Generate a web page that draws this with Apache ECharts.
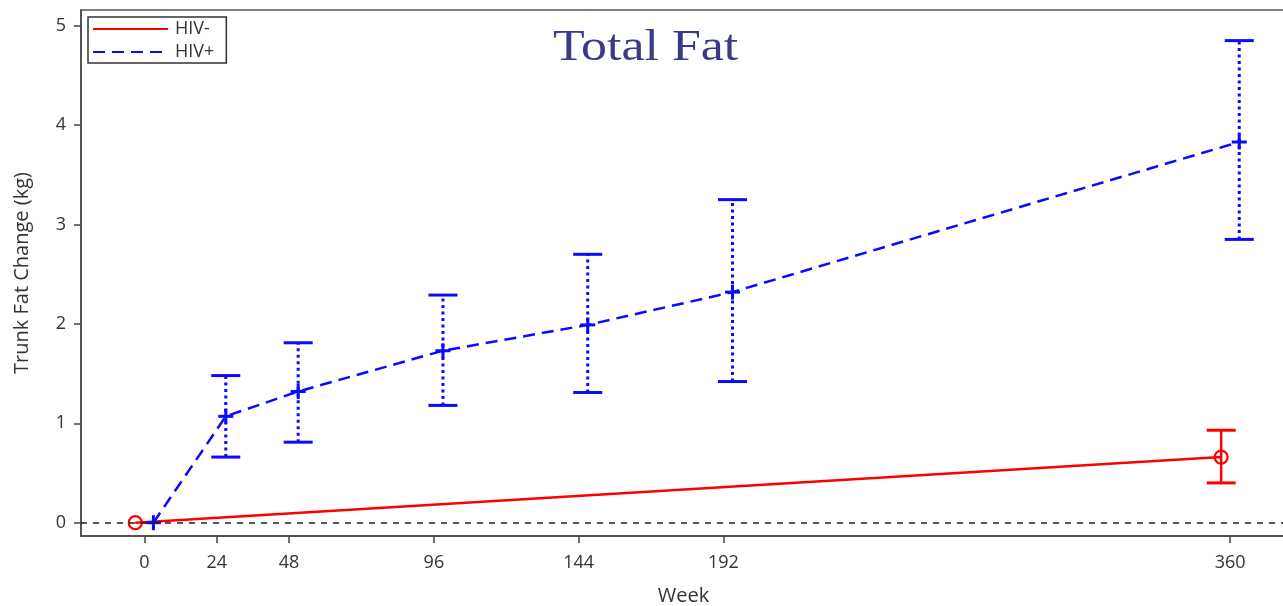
<!DOCTYPE html>
<html>
<head>
<meta charset="utf-8">
<script src="https://cdn.jsdelivr.net/npm/echarts@6/dist/echarts.min.js"></script>
<style>
  html, body { margin: 0; padding: 0; background: #fff; }
  #chart { width: 1283px; height: 606px; }
</style>
</head>
<body>
<div id="chart"></div>
<script>
// ---- Data ----
const weekTicks = [0, 24, 48, 96, 144, 192, 360];
const yTicks = [0, 1, 2, 3, 4, 5];

const hivNegWeeks = [0, 360];
const hivNegMean  = [0, 0.66];
const hivNegLower = [null, 0.40];
const hivNegUpper = [null, 0.93];

const hivPosWeeks = [0, 24, 48, 96, 144, 192, 360];
const hivPosMean  = [0, 1.07, 1.32, 1.73, 1.99, 2.32, 3.83];
const hivPosLower = [null, 0.66, 0.81, 1.18, 1.31, 1.42, 2.85];
const hivPosUpper = [null, 1.48, 1.81, 2.29, 2.70, 3.25, 4.85];

// horizontal dodge (weeks) used in the original plot
const negDodge = -3;
const posDodge = 3;

const RED = '#ff0000';
const BLUE = '#0a0aff';
const FONT = '"Open Sans", "Noto Sans", sans-serif';

const negLine = hivNegWeeks.map((w, i) => [w + negDodge, hivNegMean[i]]);
const posLine = hivPosWeeks.map((w, i) => [w + posDodge, hivPosMean[i]]);
const negPts = hivNegWeeks.map((w, i) => [w + negDodge, hivNegMean[i], hivNegLower[i], hivNegUpper[i]]);
const posPts = hivPosWeeks.map((w, i) => [w + posDodge, hivPosMean[i], hivPosLower[i], hivPosUpper[i]]);

function makeRender(kind) {
  return function (params, api) {
    const x = api.value(0), m = api.value(1), lo = api.value(2), hi = api.value(3);
    const pm = api.coord([x, m]);
    const children = [];
    const color = kind === 'pos' ? BLUE : RED;
    if (lo != null && !isNaN(lo) && hi != null && !isNaN(hi)) {
      const pl = api.coord([x, lo]);
      const ph = api.coord([x, hi]);
      const hw = 14.5;
      children.push({
        type: 'line',
        shape: { x1: pl[0], y1: pl[1], x2: ph[0], y2: ph[1] },
        style: kind === 'pos'
          ? { stroke: color, lineWidth: 3, lineDash: [3, 3.5] }
          : { stroke: color, lineWidth: 2.5 }
      });
      children.push({ type: 'line', shape: { x1: ph[0] - hw, y1: ph[1], x2: ph[0] + hw, y2: ph[1] }, style: { stroke: color, lineWidth: 3 } });
      children.push({ type: 'line', shape: { x1: pl[0] - hw, y1: pl[1], x2: pl[0] + hw, y2: pl[1] }, style: { stroke: color, lineWidth: 3 } });
    }
    if (kind === 'pos') {
      const s = 7.5;
      children.push({ type: 'line', shape: { x1: pm[0] - s, y1: pm[1], x2: pm[0] + s, y2: pm[1] }, style: { stroke: color, lineWidth: 3 } });
      children.push({ type: 'line', shape: { x1: pm[0], y1: pm[1] - s, x2: pm[0], y2: pm[1] + s }, style: { stroke: color, lineWidth: 3 } });
    } else {
      children.push({ type: 'circle', shape: { cx: pm[0], cy: pm[1], r: 6.5 }, style: { fill: 'none', stroke: color, lineWidth: 2.2 } });
    }
    return { type: 'group', children: children };
  };
}

const chart = echarts.init(document.getElementById('chart'), null, { renderer: 'canvas' });
chart.setOption({
  animation: false,
  backgroundColor: '#ffffff',
  graphic: [{
    type: 'text',
    x: 553,
    y: 26,
    scaleX: 1.18,
    style: {
      text: 'Total Fat',
      font: '44px "Liberation Serif", "DejaVu Serif", serif',
      fill: '#3b3a86'
    },
    z: 10
  }],
  legend: {
    orient: 'vertical',
    left: 88,
    top: 17,
    data: ['HIV-', 'HIV+'],
    itemWidth: 75,
    itemHeight: 14,
    itemGap: 5,
    padding: [3, 12, 2, 4],
    borderColor: '#333',
    borderWidth: 1.5,
    itemStyle: { color: 'transparent', borderWidth: 0, opacity: 0 },
    textStyle: { fontFamily: FONT, fontSize: 18, color: '#333', padding: [0, 0, 0, 2] }
  },
  grid: { left: 81, top: 10, right: -3, bottom: 70, show: true, borderColor: '#555', borderWidth: 1.5, outerBoundsMode: 'none', containLabel: false },
  xAxis: {
    type: 'value',
    min: -21,
    max: 378.5,
    name: 'Week',
    nameLocation: 'middle',
    nameGap: 50,
    nameTextStyle: { fontFamily: FONT, fontSize: 20, color: '#333' },
    axisLine: { show: true, onZero: false, lineStyle: { color: '#444', width: 1.5 } },
    axisTick: { show: true, inside: false, length: 7, lineStyle: { color: '#444', width: 1.5 }, customValues: weekTicks },
    axisLabel: { fontFamily: FONT, fontSize: 18, color: '#333', margin: 18, customValues: weekTicks },
    splitLine: { show: false }
  },
  yAxis: {
    type: 'value',
    min: -0.134,
    max: 5.158,
    name: 'Trunk Fat Change (kg)',
    nameLocation: 'middle',
    nameGap: 49,
    nameTextStyle: { fontFamily: FONT, fontSize: 20, color: '#333' },
    axisLine: { show: true, onZero: false, lineStyle: { color: '#444', width: 1.5 } },
    axisTick: { show: true, inside: false, length: 7, lineStyle: { color: '#444', width: 1.5 }, customValues: yTicks },
    axisLabel: { fontFamily: FONT, fontSize: 18, color: '#333', margin: 15, customValues: yTicks },
    splitLine: { show: false }
  },
  series: [
    {
      name: 'HIV-',
      type: 'line',
      data: negLine,
      symbol: 'none',
      lineStyle: { color: RED, width: 2.5 },
      itemStyle: { color: RED },
      z: 3,
      markLine: {
        silent: true,
        symbol: 'none',
        label: { show: false },
        lineStyle: { color: '#222', type: [6, 6], width: 1.5 },
        data: [{ yAxis: 0 }]
      }
    },
    {
      name: 'HIV+',
      type: 'line',
      data: posLine,
      symbol: 'none',
      lineStyle: { color: BLUE, width: 2.5, type: [12, 7] },
      itemStyle: { color: BLUE },
      z: 3
    },
    { name: 'negMarks', type: 'custom', renderItem: makeRender('neg'), data: negPts, encode: { x: 0, y: 1 }, z: 4, clip: false },
    { name: 'posMarks', type: 'custom', renderItem: makeRender('pos'), data: posPts, encode: { x: 0, y: 1 }, z: 4, clip: false }
  ]
});
</script>
</body>
</html>
